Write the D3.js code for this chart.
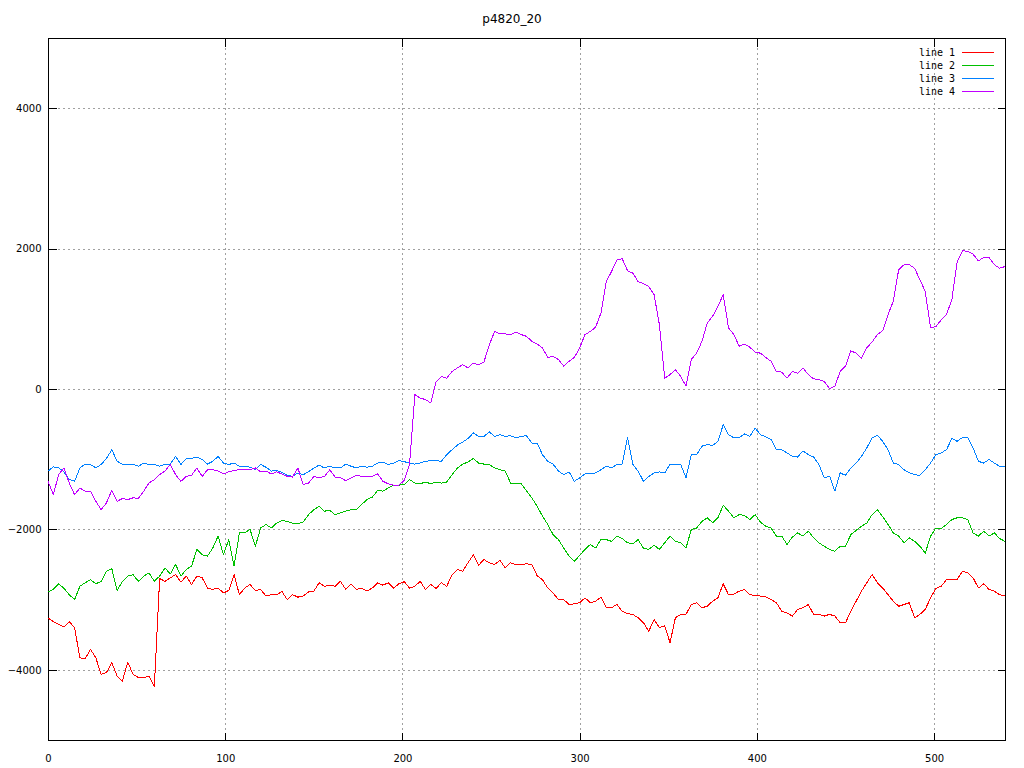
<!DOCTYPE html>
<html>
<head>
<meta charset="utf-8">
<script src="https://cdnjs.cloudflare.com/ajax/libs/d3/7.8.5/d3.min.js"></script>
<style>
  html, body { margin: 0; padding: 0; background: #ffffff; }
  svg { display: block; }
</style>
</head>
<body>
<svg id="chart" width="1024" height="768"></svg>
<script>
// ---------- data (sampled every 3 units of x) ----------
const title = "p4820_20";
const xStep = 3;
const xTicks = [0, 100, 200, 300, 400, 500];
const yTicks = [-4000, -2000, 0, 2000, 4000];
const seriesNames = ["line 1", "line 2", "line 3", "line 4"];
const seriesColors = ["#ff0000", "#00c000", "#0080ff", "#c000ff"];

const line1 = [
  -3260,-3315,-3355,-3390,-3315,-3400,-3830,-3840,-3710,-3830,-4065,-4040,-3900,-4090,-4160,-3890,-4065,-4110,-4110,-4090,-4245,-2700,-2740,
  -2690,-2645,-2750,-2665,-2785,-2665,-2690,-2835,-2855,-2835,-2905,-2870,-2645,-2930,-2835,-2785,-2870,-2855,-2950,-2930,-2930,-2885,
  -3000,-2930,-2965,-2950,-2890,-2880,-2760,-2810,-2795,-2810,-2740,-2855,-2775,-2855,-2835,-2880,-2835,-2760,-2795,-2760,-2835,-2775,-2745,
  -2835,-2810,-2740,-2855,-2785,-2840,-2760,-2810,-2645,-2570,-2595,-2475,-2360,-2510,-2430,-2475,-2500,-2440,-2550,-2475,-2500,-2500,-2490,
  -2500,-2660,-2715,-2835,-2905,-3000,-3000,-3070,-3060,-3045,-2975,-3045,-3023,-2965,-3115,-3115,-3070,-3165,-3200,-3210,-3260,-3330,
  -3450,-3285,-3400,-3375,-3615,-3260,-3210,-3210,-3070,-3045,-3115,-3095,-3023,-2975,-2775,-2930,-2920,-2880,-2855,-2930,-2940,-2950,-2960,
  -3000,-3045,-3165,-3190,-3235,-3140,-3115,-3070,-3210,-3210,-3235,-3210,-3235,-3330,-3330,-3165,-3023,-2880,-2760,-2645,-2760,-2835,
  -2930,-3023,-3095,-3070,-3045,-3260,-3210,-3140,-2975,-2840,-2810,-2715,-2715,-2715,-2595,-2620,-2690,-2835,-2775,-2855,-2880,-2930,-2950
];
const line2 = [
  -2890,-2855,-2775,-2840,-2930,-3000,-2810,-2760,-2715,-2775,-2740,-2595,-2560,-2870,-2740,-2665,-2645,-2740,-2665,-2620,-2740,-2665,-2550,
  -2635,-2500,-2665,-2570,-2525,-2285,-2360,-2380,-2265,-2095,-2360,-2145,-2525,-2050,-2050,-2000,-2240,-1980,-1930,-1980,-1910,-1875,
  -1885,-1910,-1920,-1895,-1790,-1720,-1670,-1740,-1730,-1790,-1765,-1740,-1720,-1720,-1645,-1575,-1540,-1445,-1455,-1410,-1370,-1370,-1360,
  -1290,-1340,-1350,-1325,-1350,-1325,-1340,-1325,-1220,-1125,-1070,-1040,-990,-1055,-1070,-1075,-1125,-1150,-1170,-1340,-1340,-1350,-1450,
  -1550,-1670,-1810,-1930,-2075,-2145,-2265,-2380,-2455,-2370,-2285,-2215,-2265,-2145,-2145,-2170,-2095,-2130,-2190,-2205,-2145,-2270,
  -2285,-2225,-2285,-2190,-2095,-2170,-2190,-2265,-2000,-1980,-1885,-1835,-1905,-1835,-1655,-1740,-1835,-1790,-1800,-1860,-1790,-1895,-1955,
  -1980,-2095,-2095,-2215,-2110,-2050,-2095,-2025,-2120,-2190,-2240,-2285,-2310,-2240,-2240,-2075,-2015,-1955,-1910,-1790,-1720,-1820,
  -1930,-2050,-2095,-2190,-2120,-2170,-2240,-2340,-2095,-1980,-1990,-1930,-1860,-1835,-1835,-1860,-2050,-2095,-2025,-2095,-2050,-2130,-2170
];
const line3 = [
  -1170,-1110,-1125,-1180,-1290,-1315,-1125,-1070,-1075,-1125,-1075,-990,-865,-1030,-1070,-1075,-1070,-1100,-1055,-1075,-1075,-1100,-1075,
  -1070,-960,-1075,-990,-990,-970,-1005,-1070,-1030,-960,-1055,-1075,-1055,-1100,-1100,-1115,-1150,-1075,-1115,-1170,-1160,-1185,
  -1230,-1245,-1195,-1220,-1180,-1125,-1085,-1125,-1100,-1125,-1125,-1070,-1100,-1125,-1100,-1115,-1100,-1055,-1040,-1075,-1055,-1020,-1035,
  -1055,-1070,-1055,-1030,-1020,-1020,-1030,-935,-865,-800,-755,-705,-625,-675,-675,-610,-675,-650,-675,-665,-695,-675,-665,
  -770,-770,-935,-1030,-1070,-1170,-1220,-1180,-1315,-1265,-1210,-1210,-1195,-1150,-1100,-1125,-1075,-1070,-690,-1075,-1170,-1315,
  -1245,-1195,-1180,-1195,-1070,-1075,-1075,-1265,-935,-935,-815,-790,-805,-745,-510,-650,-695,-695,-640,-675,-555,-650,-680,
  -720,-865,-865,-910,-960,-970,-880,-935,-970,-1075,-1265,-1240,-1455,-1195,-1230,-1125,-1055,-960,-840,-695,-660,-745,
  -865,-1055,-1075,-1150,-1195,-1220,-1230,-1150,-1055,-935,-910,-865,-705,-745,-690,-695,-840,-1030,-1055,-1005,-1055,-1100,-1100
];
const line4 = [
  -1315,-1505,-1220,-1125,-1340,-1505,-1410,-1455,-1455,-1600,-1720,-1620,-1445,-1600,-1560,-1575,-1550,-1560,-1455,-1340,-1290,-1220,-1170,
  -1075,-1220,-1315,-1245,-1230,-1125,-1245,-1150,-1150,-1170,-1210,-1180,-1160,-1150,-1140,-1150,-1125,-1180,-1170,-1210,-1180,-1210,
  -1245,-1255,-1125,-1360,-1340,-1245,-1265,-1245,-1150,-1255,-1265,-1305,-1265,-1230,-1245,-1245,-1245,-1210,-1315,-1350,-1370,-1370,-1300,
  -1075,-80,-130,-150,-200,100,180,155,250,300,345,300,370,345,385,630,820,785,785,775,810,775,750,
  680,640,585,450,465,420,325,395,450,585,775,820,880,1080,1530,1675,1840,1855,1685,1650,1530,1500,
  1460,1345,915,155,205,275,180,40,420,510,680,940,1035,1175,1345,870,775,610,640,595,525,510,450,
  395,250,240,155,250,225,300,205,145,135,110,5,40,250,325,545,510,440,585,670,775,830,
  1060,1250,1700,1770,1770,1720,1555,1390,870,890,985,1065,1270,1815,1970,1960,1920,1825,1875,1875,1770,1720,1745
];
const allSeries = [line1, line2, line3, line4];

// ---------- layout ----------
const svg = d3.select("#chart");
const mLeft = 48, mRight = 1005, mTop = 38, mBottom = 740;

const x = d3.scaleLinear().domain([0, 540]).range([mLeft, mRight]);
const y = d3.scaleLinear().domain([-5000, 5000]).range([mBottom, mTop]);

const font = "'DejaVu Sans', 'Liberation Sans', sans-serif";
const monoFont = "'DejaVu Sans Mono', 'Liberation Mono', monospace";

svg.append("rect").attr("width", 1024).attr("height", 768).attr("fill", "#ffffff");

// grid
const grid = svg.append("g").attr("shape-rendering", "crispEdges");
grid.selectAll("line.gx").data(xTicks.filter(d => d > 0)).enter().append("line")
  .attr("x1", d => Math.round(x(d)) + 0.5).attr("x2", d => Math.round(x(d)) + 0.5)
  .attr("y1", mTop).attr("y2", mBottom)
  .attr("stroke", "#a0a0a0").attr("stroke-width", 1).attr("stroke-dasharray", "2,3");
grid.selectAll("line.gy").data(yTicks).enter().append("line")
  .attr("y1", d => Math.round(y(d)) + 0.5).attr("y2", d => Math.round(y(d)) + 0.5)
  .attr("x1", mLeft).attr("x2", mRight)
  .attr("stroke", "#a0a0a0").attr("stroke-width", 1).attr("stroke-dasharray", "2,3");

// axes with inward ticks (mirrored on all sides)
const tickLen = 8;
const axB = svg.append("g").attr("transform", `translate(0,${mBottom + 0.5})`)
  .call(d3.axisBottom(x).tickValues(xTicks).tickSizeInner(-tickLen).tickSizeOuter(0).tickPadding(14).tickFormat(d3.format("d")));
const axL = svg.append("g").attr("transform", `translate(${mLeft + 0.5},0)`)
  .call(d3.axisLeft(y).tickValues(yTicks).tickSizeInner(-tickLen).tickSizeOuter(0).tickPadding(7).tickFormat(d3.format("d")));
const axT = svg.append("g").attr("transform", `translate(0,${mTop + 0.5})`)
  .call(d3.axisTop(x).tickValues(xTicks).tickSizeInner(-tickLen).tickSizeOuter(0).tickFormat(""));
const axR = svg.append("g").attr("transform", `translate(${mRight + 0.5},0)`)
  .call(d3.axisRight(y).tickValues(yTicks).tickSizeInner(-tickLen).tickSizeOuter(0).tickFormat(""));
[axB, axL, axT, axR].forEach(a => {
  a.attr("shape-rendering", "crispEdges");
  a.select(".domain").remove();
  a.selectAll("line").attr("stroke", "#000");
  a.selectAll("text").attr("font-family", font).attr("font-size", 10).attr("fill", "#000");
});

// frame
svg.append("rect").attr("x", mLeft + 0.5).attr("y", mTop + 0.5)
  .attr("width", mRight - mLeft).attr("height", mBottom - mTop)
  .attr("fill", "none").attr("stroke", "#000").attr("stroke-width", 1)
  .attr("shape-rendering", "crispEdges");

// data lines
const lineGen = d3.line().x((d, i) => x(i * xStep)).y(d => y(d));
svg.append("g").selectAll("path").data(allSeries).enter().append("path")
  .attr("d", d => lineGen(d))
  .attr("fill", "none")
  .attr("stroke", (d, i) => seriesColors[i])
  .attr("stroke-width", 1)
  .attr("shape-rendering", "crispEdges")
  .attr("stroke-linejoin", "round");

// title
svg.append("text").attr("x", 512).attr("y", 23).attr("text-anchor", "middle")
  .attr("font-family", font).attr("font-size", 12).attr("fill", "#000").text(title);

// legend
const leg = svg.append("g");
seriesNames.forEach((name, i) => {
  const ly = 52 + i * 13;
  leg.append("text").attr("x", 955).attr("y", ly + 4).attr("text-anchor", "end")
    .attr("font-family", monoFont).attr("font-size", 10).attr("fill", "#000").text(name);
  leg.append("line").attr("x1", 962).attr("x2", 994).attr("y1", ly + 0.5).attr("y2", ly + 0.5)
    .attr("stroke", seriesColors[i]).attr("stroke-width", 1).attr("shape-rendering", "crispEdges");
});
</script>
</body>
</html>
